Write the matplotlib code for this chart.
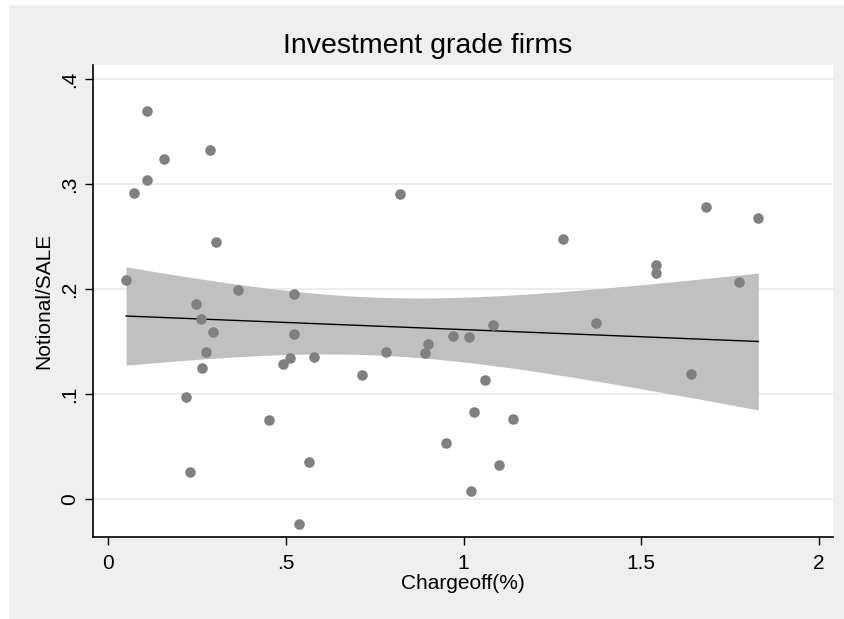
import numpy as np
import matplotlib
matplotlib.use("Agg")
import matplotlib.pyplot as plt
from matplotlib.patches import Rectangle

# Charge-off rate (%) and notional/sales ratio for investment grade firms
chargeoff = [0.051, 0.073, 0.110, 0.110, 0.158, 0.247, 0.262, 0.275, 0.264, 0.219,
             0.232, 0.287, 0.304, 0.295, 0.365, 0.453, 0.492, 0.512, 0.524, 0.522,
             0.536, 0.566, 0.579, 0.714, 0.783, 0.821, 0.891, 0.901, 0.950, 0.971,
             1.014, 1.020, 1.029, 1.059, 1.082, 1.100, 1.138, 1.281, 1.372, 1.540,
             1.540, 1.641, 1.681, 1.774, 1.829]
notional_sale = [0.2086, 0.291, 0.3695, 0.304, 0.324, 0.1854, 0.1714, 0.1397, 0.1248, 0.0971,
                 0.0257, 0.332, 0.245, 0.1594, 0.199, 0.075, 0.1286, 0.134, 0.195, 0.1571,
                 -0.0235, 0.0352, 0.135, 0.1184, 0.140, 0.2902, 0.1387, 0.148, 0.0533, 0.1555,
                 0.154, 0.0079, 0.0826, 0.1133, 0.1657, 0.0324, 0.0765, 0.2479, 0.1679, 0.2229,
                 0.2155, 0.1187, 0.2784, 0.2067, 0.2673]

x_ticks = [0, 0.5, 1, 1.5, 2]
x_tick_labels = ["0", ".5", "1", "1.5", "2"]
y_ticks = [0, 0.1, 0.2, 0.3, 0.4]
y_tick_labels = ["0", ".1", ".2", ".3", ".4"]

plt.rcParams["font.family"] = ["Liberation Sans", "DejaVu Sans"]

x = np.asarray(chargeoff)
y = np.asarray(notional_sale)

# Linear fit with 95% confidence interval of the mean prediction
n = len(x)
slope, intercept = np.polyfit(x, y, 1)
resid = y - (intercept + slope * x)
s2 = np.sum(resid ** 2) / (n - 2)
xbar = x.mean()
sxx = np.sum((x - xbar) ** 2)
xg = np.linspace(x.min(), x.max(), 100)
yg = intercept + slope * xg
se = np.sqrt(s2 * (1.0 / n + (xg - xbar) ** 2 / sxx))
tcrit = 2.0167  # t(0.975, 43)
lo, hi = yg - tcrit * se, yg + tcrit * se

W, H = 844, 619
fig = plt.figure(figsize=(W / 100, H / 100), dpi=100, facecolor="white")
fig.patches.append(Rectangle((9 / W, 0), 1 - 9 / W, 1 - 5 / H,
                             transform=fig.transFigure, facecolor="#efefef",
                             edgecolor="none", zorder=-10))

ax = fig.add_axes([93 / W, 1 - 537 / H, (833 - 93) / W, (537 - 65) / H])
ax.set_facecolor("white")

ax.fill_between(xg, lo, hi, color="#c0c0c0", linewidth=0, zorder=2)
ax.plot(xg, yg, color="black", linewidth=1.0, zorder=3)
ax.scatter(x, y, s=58, color="#808080", linewidths=0, zorder=4)

ax.set_xlim(-0.042, 2.039)
ax.set_ylim(-0.0362, 0.4133)

ax.set_xticks(x_ticks)
ax.set_xticklabels(x_tick_labels)
ax.set_yticks(y_ticks)
ax.set_yticklabels(y_tick_labels, rotation=90, va="center")

ax.grid(axis="y", color="#eaeaea", linewidth=1.2, zorder=0)
ax.set_axisbelow(True)

for side in ("top", "right"):
    ax.spines[side].set_visible(False)
for side in ("left", "bottom"):
    ax.spines[side].set_color("black")
    ax.spines[side].set_linewidth(1.2)

ax.tick_params(axis="both", direction="out", length=6, width=1.0,
               color="black", labelsize=15, pad=4)
ax.tick_params(axis="x", pad=6)

ax.set_xlabel("Chargeoff(%)", fontsize=15, labelpad=1)
ax.set_ylabel("Notional/SALE", fontsize=15, labelpad=5)

fig.text(428 / W, 1 - 46 / H, "Investment grade firms", ha="center", va="center",
         fontsize=20.5)

fig.savefig("out.png", dpi=100, facecolor=fig.get_facecolor())
